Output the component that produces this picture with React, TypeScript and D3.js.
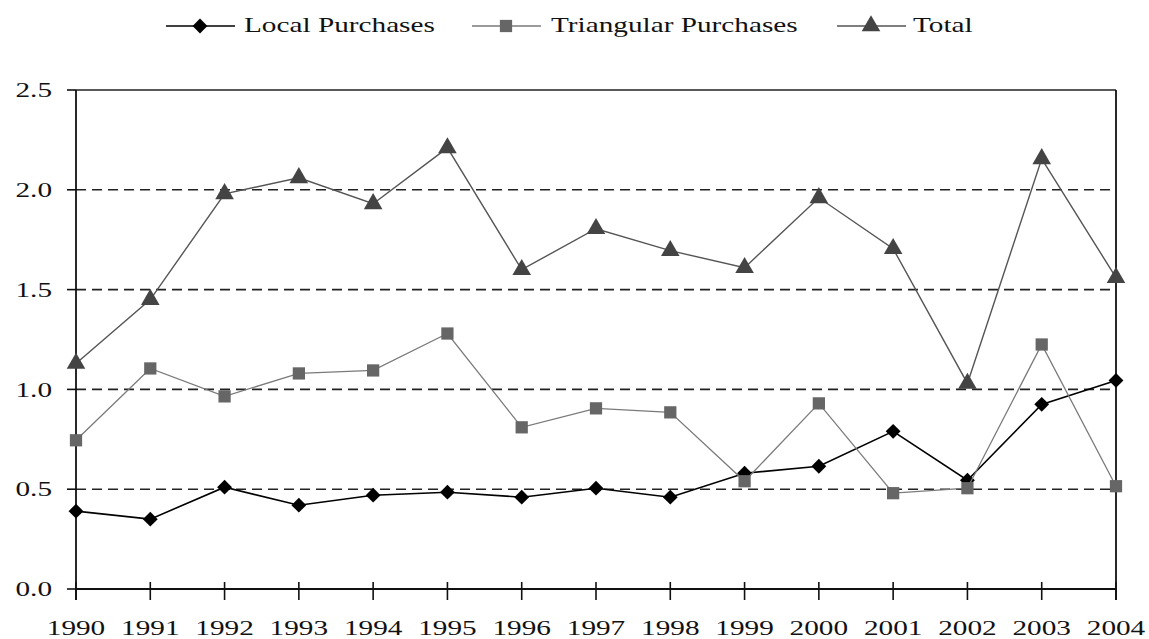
import React from 'react';
import * as d3 from 'd3';

const years = [1990, 1991, 1992, 1993, 1994, 1995, 1996, 1997, 1998, 1999, 2000, 2001, 2002, 2003, 2004];
const localPurchases = [0.39, 0.35, 0.51, 0.42, 0.47, 0.485, 0.46, 0.505, 0.46, 0.58, 0.615, 0.79, 0.545, 0.925, 1.045];
const triangularPurchases = [0.745, 1.105, 0.965, 1.08, 1.095, 1.28, 0.81, 0.905, 0.885, 0.54, 0.93, 0.48, 0.505, 1.225, 0.515];
const totals = [1.13, 1.45, 1.98, 2.06, 1.93, 2.21, 1.60, 1.805, 1.695, 1.61, 1.96, 1.705, 1.03, 2.155, 1.56];
const yTicks = [0, 0.5, 1.0, 1.5, 2.0, 2.5];

const W = 1149;
const H = 639;
const left = 76, right = 1116, top = 90, bottom = 589;
const FONT = "'Liberation Serif', 'Times New Roman', serif";
const SX = 1.33;

const x = d3.scaleLinear().domain([1990, 2004]).range([left, right]);
const y = d3.scaleLinear().domain([0, 2.5]).range([bottom, top]);

const line = d3.line<number>()
  .x((d, i) => x(years[i]))
  .y(d => y(d));

const diamond = d3.symbol().type(d3.symbolSquare).size(110)();
const square = d3.symbol().type(d3.symbolSquare).size(150)();
const triangle = d3.symbol().type(d3.symbolTriangle).size(150)();

const series = [
  { name: 'Local Purchases', values: localPurchases, stroke: '#000', width: 1.6, fill: '#000', marker: diamond, rotate: 45 },
  { name: 'Triangular Purchases', values: triangularPurchases, stroke: '#7a7a7a', width: 1.3, fill: '#666', marker: square, rotate: 0 },
  { name: 'Total', values: totals, stroke: '#555', width: 1.4, fill: '#444', marker: triangle, rotate: 0 },
];

// legend positions (segment start x, text start x)
const legendPos = [
  { x0: 166, tx: 244 },
  { x0: 472, tx: 551 },
  { x0: 837, tx: 913 },
];

function Txt({ px, py, anchor, children }: { px: number; py: number; anchor: string; children: React.ReactNode }) {
  return (
    <text transform={`translate(${px},${py}) scale(${SX},1)`} textAnchor={anchor}
      dominantBaseline="central" fontFamily={FONT} fontSize={22} fill="#111">
      {children}
    </text>
  );
}

export default function App() {
  return (
    <div style={{ position: 'absolute', left: 0, top: 0 }}>
      <svg width={W} height={H} style={{ display: 'block', background: '#fff' }}>
        {/* legend */}
        {series.map((s, i) => {
          const lp = legendPos[i];
          return (
            <g key={s.name}>
              <line x1={lp.x0} x2={lp.x0 + 69} y1={26} y2={26} stroke={s.stroke} strokeWidth={s.width} />
              <path d={s.marker} fill={s.fill} transform={`translate(${lp.x0 + 34},26) rotate(${s.rotate})`} />
              <Txt px={lp.tx} py={25} anchor="start">{s.name}</Txt>
            </g>
          );
        })}

        {/* dashed grid */}
        {yTicks.filter(t => t > 0 && t < 2.5).map(t => (
          <line key={t} x1={left} x2={right} y1={y(t)} y2={y(t)} stroke="#222" strokeWidth={1.6} strokeDasharray="10,6" />
        ))}

        {/* frame */}
        <line x1={left} x2={right} y1={top} y2={top} stroke="#222" strokeWidth={1.6} />
        <line x1={right} x2={right} y1={top} y2={bottom + 11} stroke="#111" strokeWidth={1.8} />
        <line x1={left} x2={left} y1={top} y2={bottom + 11} stroke="#111" strokeWidth={1.8} />
        <line x1={left} x2={right} y1={bottom} y2={bottom} stroke="#111" strokeWidth={1.8} />

        {/* y ticks and labels */}
        {yTicks.map(t => (
          <g key={t}>
            <line x1={left - 9} x2={left} y1={y(t)} y2={y(t)} stroke="#111" strokeWidth={1.6} />
            <Txt px={52} py={y(t)} anchor="end">{t.toFixed(1)}</Txt>
          </g>
        ))}

        {/* x ticks and labels */}
        {years.map(yr => (
          <g key={yr}>
            <line x1={x(yr)} x2={x(yr)} y1={bottom - 7} y2={bottom + 11} stroke="#111" strokeWidth={1.6} />
            <Txt px={x(yr)} py={628} anchor="middle">{yr}</Txt>
          </g>
        ))}

        {/* series */}
        {series.map(s => (
          <g key={s.name}>
            <path d={line(s.values) || ''} fill="none" stroke={s.stroke} strokeWidth={s.width} />
            {s.values.map((v, i) => (
              <path key={i} d={s.marker} fill={s.fill}
                transform={`translate(${x(years[i])},${y(v)}) rotate(${s.rotate})`} />
            ))}
          </g>
        ))}
      </svg>
    </div>
  );
}
